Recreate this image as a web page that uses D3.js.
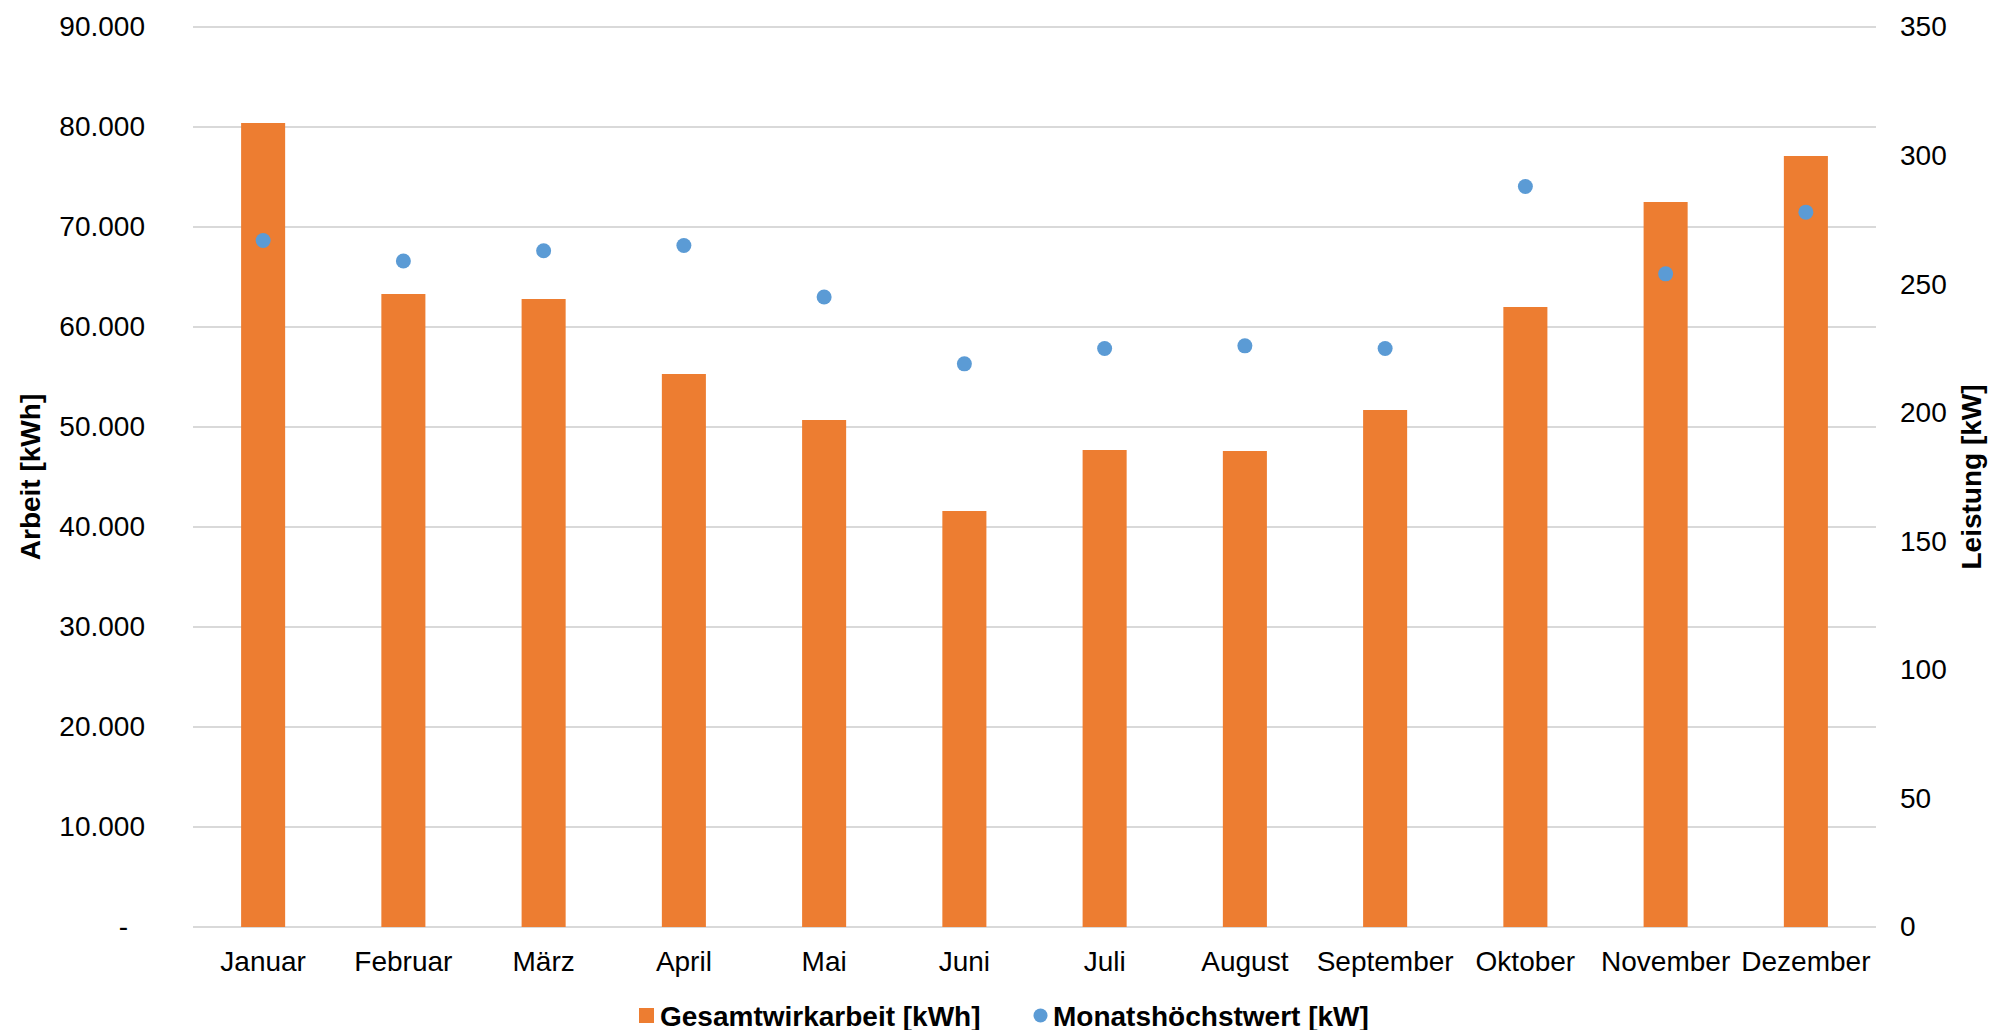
<!DOCTYPE html>
<html>
<head>
<meta charset="utf-8">
<script src="https://cdn.jsdelivr.net/npm/d3@7"></script>
<style>
  html, body { margin: 0; padding: 0; background: #fff; }
  svg { display: block; }
  text { font-family: "Liberation Sans", Arial, sans-serif; fill: #000; }
</style>
</head>
<body>
<script>
// Monthly energy (kWh) and monthly peak demand (kW)
const months = ["Januar", "Februar", "März", "April", "Mai", "Juni",
                "Juli", "August", "September", "Oktober", "November", "Dezember"];
const arbeit = [80400, 63300, 62800, 55300, 50700, 41600, 47700, 47600, 51700, 62000, 72500, 77100];
const leistung = [267, 259, 263, 265, 245, 219, 225, 226, 225, 288, 254, 278];
const arbeitTicks = [0, 10000, 20000, 30000, 40000, 50000, 60000, 70000, 80000, 90000];
const leistungTicks = [0, 50, 100, 150, 200, 250, 300, 350];
const seriesNames = ["Gesamtwirkarbeit [kWh]", "Monatshöchstwert [kW]"];
const axisTitles = ["Arbeit [kWh]", "Leistung [kW]"];

const W = 1990, H = 1030;
const plot = { left: 193, right: 1876, top: 27, bottom: 927 };
const orange = "#ED7D31", blue = "#5B9BD5", grid = "#D9D9D9";

const de = d3.formatLocale({ decimal: ",", thousands: ".", grouping: [3], currency: ["", " €"] });
const fmt = de.format(",.0f");

const svg = d3.select("body").append("svg").attr("width", W).attr("height", H);

const x = d3.scaleBand().domain(months)
  .range([plot.left, plot.right])
  .paddingInner(0.686).paddingOuter(0.343);
const yL = d3.scaleLinear().domain([0, 90000]).range([plot.bottom, plot.top]);
const yR = d3.scaleLinear().domain([0, 350]).range([plot.bottom, plot.top]);

// horizontal gridlines from the primary axis
svg.append("g").selectAll("line").data(arbeitTicks).join("line")
  .attr("x1", plot.left).attr("x2", plot.right)
  .attr("y1", d => yL(d)).attr("y2", d => yL(d))
  .attr("stroke", grid).attr("stroke-width", 2);

// left axis labels
const leftAxis = svg.append("g")
  .attr("transform", `translate(${plot.left},0)`)
  .call(d3.axisLeft(yL).tickValues(arbeitTicks).tickSize(0).tickPadding(48)
    .tickFormat(d => d === 0 ? "-" : fmt(d)));
leftAxis.select(".domain").remove();
leftAxis.selectAll("text").attr("font-size", 28).attr("fill", "#000")
  .attr("font-family", "Liberation Sans, Arial, sans-serif")
  .attr("dx", d => d === 0 ? -17 : 0);

// right axis labels
const rightAxis = svg.append("g")
  .attr("transform", `translate(${plot.right},0)`)
  .call(d3.axisRight(yR).tickValues(leistungTicks).tickSize(0).tickPadding(24)
    .tickFormat(d3.format("d")));
rightAxis.select(".domain").remove();
rightAxis.selectAll("text").attr("font-size", 28).attr("fill", "#000")
  .attr("font-family", "Liberation Sans, Arial, sans-serif");

// category axis
const bottomAxis = svg.append("g")
  .attr("transform", `translate(0,${plot.bottom})`)
  .call(d3.axisBottom(x).tickSize(0).tickPadding(24));
bottomAxis.select(".domain").remove();
bottomAxis.selectAll("text").attr("font-size", 28).attr("fill", "#000")
  .attr("font-family", "Liberation Sans, Arial, sans-serif");

// bars: energy per month
svg.append("g").selectAll("rect").data(arbeit).join("rect")
  .attr("x", (d, i) => x(months[i]))
  .attr("width", x.bandwidth())
  .attr("y", d => yL(d))
  .attr("height", d => yL(0) - yL(d))
  .attr("fill", orange);

// points: monthly peak demand
svg.append("g").selectAll("circle").data(leistung).join("circle")
  .attr("cx", (d, i) => x(months[i]) + x.bandwidth() / 2)
  .attr("cy", d => yR(d))
  .attr("r", 7.5)
  .attr("fill", blue);

// axis titles
const midY = (plot.top + plot.bottom) / 2;
svg.append("text")
  .attr("transform", `translate(40,${midY}) rotate(-90)`)
  .attr("text-anchor", "middle").attr("font-size", 28).attr("font-weight", "bold")
  .text(axisTitles[0]);
svg.append("text")
  .attr("transform", `translate(1981,${midY}) rotate(-90)`)
  .attr("text-anchor", "middle").attr("font-size", 28).attr("font-weight", "bold")
  .text(axisTitles[1]);

// legend
const legend = svg.append("g");
legend.append("rect").attr("x", 639).attr("y", 1008).attr("width", 15).attr("height", 15).attr("fill", orange);
legend.append("text").attr("x", 660).attr("y", 1025.5)
  .attr("font-size", 28).attr("font-weight", "bold").text(seriesNames[0]);
legend.append("circle").attr("cx", 1040.5).attr("cy", 1015.5).attr("r", 7).attr("fill", blue);
legend.append("text").attr("x", 1053).attr("y", 1025.5)
  .attr("font-size", 28).attr("font-weight", "bold").text(seriesNames[1]);
</script>
</body>
</html>
